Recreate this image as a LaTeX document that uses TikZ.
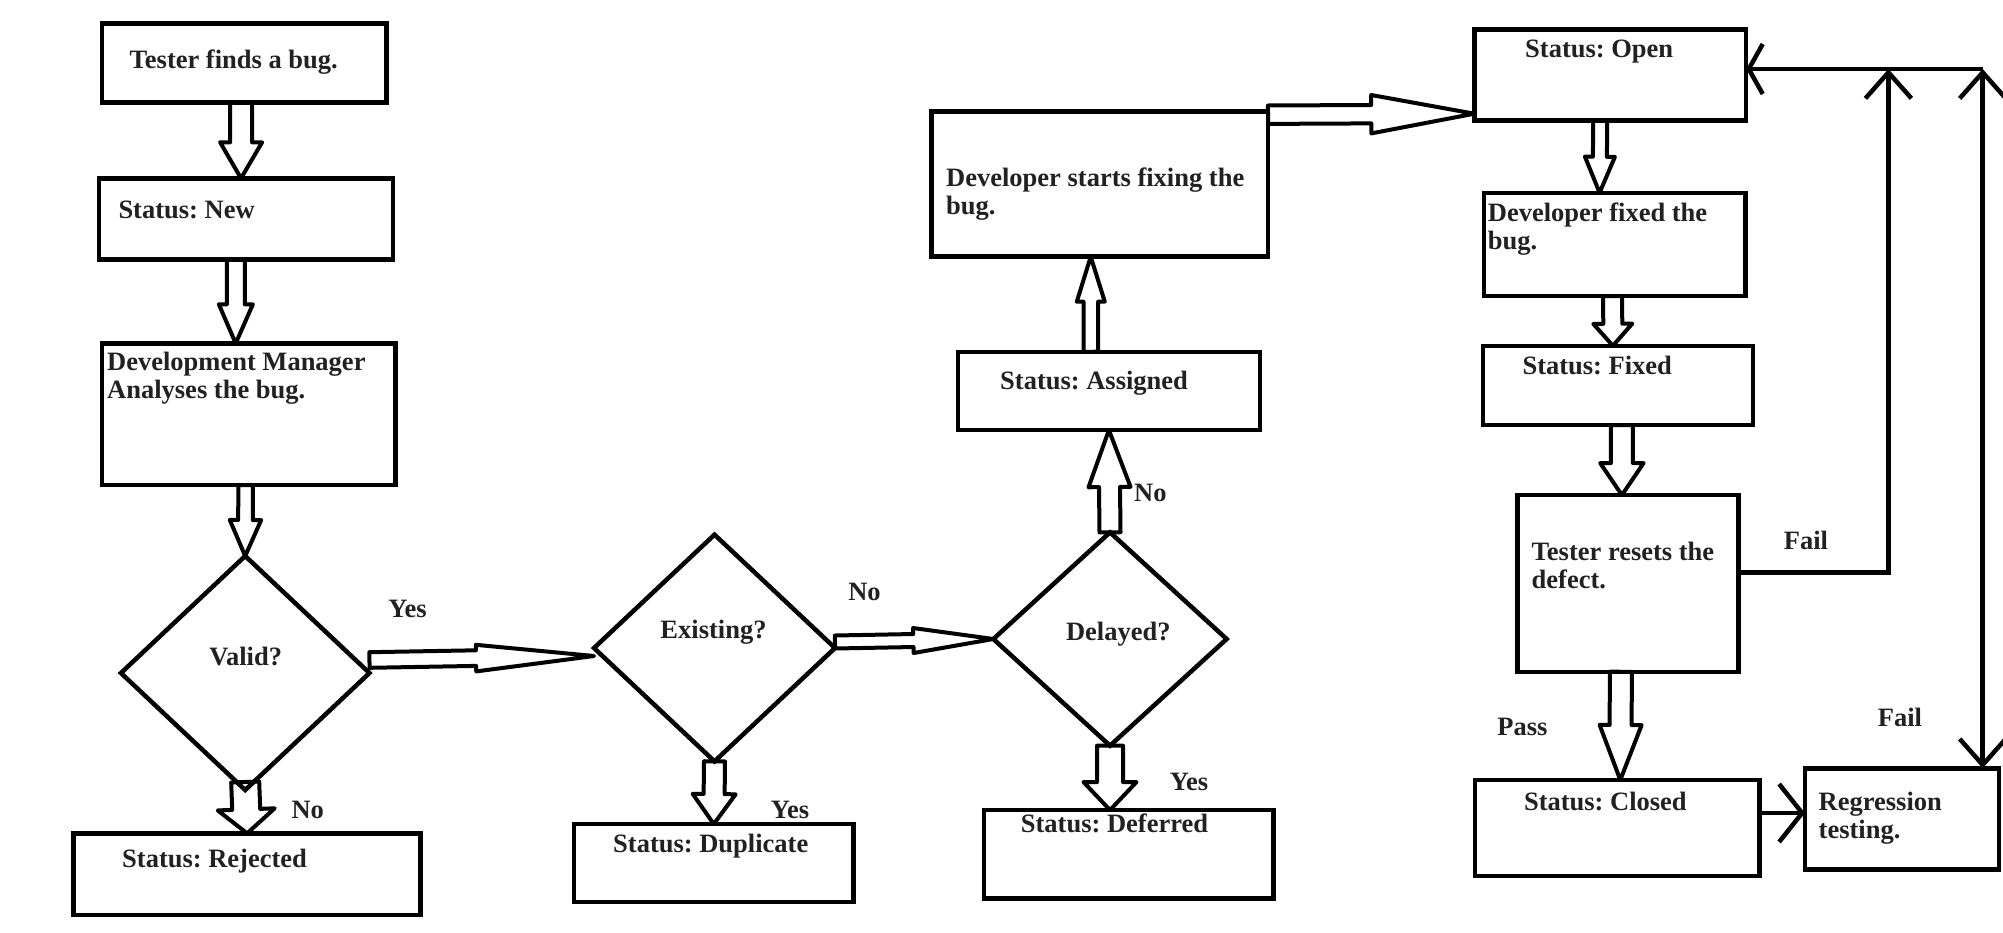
\documentclass[tikz,border=0pt]{standalone}
\usepackage{fontspec}
\setmainfont{Liberation Serif}
\usetikzlibrary{shapes.geometric,arrows.meta,calc}
\frenchspacing

\def\flowfont{\fontsize{26.5}{28}\selectfont\bfseries}
\colorlet{ink}{black}
\colorlet{textgray}{black!87}
\tikzset{
  box/.style={rectangle, draw=ink, line width=4.5pt, inner sep=0pt, outer sep=0pt},
  decision/.style={diamond, draw=ink, line width=4.5pt, inner sep=0pt, outer sep=0pt},
  txt/.style={font=\flowfont, text=textgray, inner sep=0pt, align=left},
  wire/.style={draw=ink, line width=4.5pt},
  hollow/.style={draw=ink, line width=4pt, line join=round}
  }

% hollow block arrow: {from} {to} {shaft half width} {head half width} {head length}
\newcommand{\blockarrow}[5]{
  \coordinate (ba-s) at (#1);
  \coordinate (ba-e) at (#2);
  \coordinate (ba-h) at ($(ba-e)!#5!(ba-s)$);
  \path[hollow] ($(ba-s)!#3!90:(ba-e)$) -- ($(ba-h)!#3!90:(ba-e)$)
     -- ($(ba-h)!#4!90:(ba-e)$) -- (ba-e) -- ($(ba-h)!#4!-90:(ba-e)$)
     -- ($(ba-h)!#3!-90:(ba-e)$) -- ($(ba-s)!#3!-90:(ba-e)$) -- cycle;
}

\begin{document}
\begin{tikzpicture}[x=1pt, y=-1pt, >={Straight Barb[length=26pt, width=46pt]}]
   \useasboundingbox (0,0) rectangle (2003,932);

   % first column
   \node[box, minimum width=284.8pt, minimum height=79.4pt] (tester) at (244.2,63) {};
   \node[box, minimum width=293.7pt, minimum height=81pt] (new) at (246,218.8) {};
   \node[box, minimum width=293.7pt, minimum height=141.7pt] (devmgr) at (248.7,414.2) {};
   \node[decision, minimum width=248.5pt, minimum height=234pt] (valid) at (245.2,673) {};
   \node[box, minimum width=347.2pt, minimum height=81.7pt] (rejected) at (247.1,874.2) {};

   \node[txt, anchor=north west] (tester-t) at (129.5,49.5) {Tester finds a bug.};
   \node[txt, anchor=north west] (new-t) at (118.3,200.6) {Status: New};
   \node[txt, anchor=north west] (devmgr-t) at (107,352.3) {Development Manager\\Analyses the bug.};
   \node[txt, anchor=base] (valid-t) at (245.7,665) {Valid?};
   \node[txt, anchor=north west] (rejected-t) at (122,849) {Status: Rejected};

   % middle decisions
   \node[decision, minimum width=241pt, minimum height=226.7pt] (existing) at (714.5,648) {};
   \node[box, minimum width=279.6pt, minimum height=77.7pt] (duplicate) at (713.8,862.9) {};
   \node[decision, minimum width=233.3pt, minimum height=213.3pt] (delayed) at (1110,639) {};
   \node[box, minimum width=289.3pt, minimum height=88.3pt] (deferred) at (1128.7,854.2) {};
   \node[box, minimum width=301.7pt, minimum height=78.3pt] (assigned) at (1108.9,390.9) {};
   \node[box, minimum width=336.6pt, minimum height=145pt] (devstart) at (1099.7,184.2) {};

   \node[txt, anchor=base] (existing-t) at (713.5,638.3) {Existing?};
   \node[txt, anchor=north west] (duplicate-t) at (613,834) {Status: Duplicate};
   \node[txt, anchor=base] (delayed-t) at (1118.3,640) {Delayed?};
   \node[txt, anchor=north west] (deferred-t) at (1020.7,813.3) {Status: Deferred};
   \node[txt, anchor=north west] (assigned-t) at (1000,370.6) {Status: Assigned};
   \node[txt, anchor=north west] (devstart-t) at (946,167.3) {Developer starts fixing the\\bug.};

   % right column
   \node[box, minimum width=271.9pt, minimum height=91.4pt] (open) at (1610.2,75) {};
   \node[box, minimum width=261.6pt, minimum height=103.3pt] (devfixed) at (1614.6,244.4) {};
   \node[box, minimum width=270.3pt, minimum height=79.3pt] (fixed) at (1617.9,385.4) {};
   \node[box, minimum width=221.1pt, minimum height=176.7pt] (resets) at (1627.9,583.4) {};
   \node[box, minimum width=284.6pt, minimum height=96pt] (closed) at (1617.3,828) {};
   \node[box, minimum width=193.8pt, minimum height=101pt] (regression) at (1901.9,818.8) {};

   \node[txt, anchor=north west] (open-t) at (1525,39.6) {Status: Open};
   \node[txt, anchor=north west] (devfixed-t) at (1487.7,202.3) {Developer fixed the\\bug.};
   \node[txt, anchor=north west] (fixed-t) at (1522.3,356.3) {Status: Fixed};
   \node[txt, anchor=north west] (resets-t) at (1531.5,542.3) {Tester resets the\\defect.};
   \node[txt, anchor=north west] (closed-t) at (1523.8,792.3) {Status: Closed};
   \node[txt, anchor=north west] (regression-t) at (1818.5,792.3) {Regression\\testing.};

   % branch labels
   \node[txt, anchor=base] (yes-valid) at (407.6,617.7) {Yes};
   \node[txt, anchor=base] (no-valid) at (307.7,818.3) {No};
   \node[txt, anchor=base] (no-existing) at (864.5,600) {No};
   \node[txt, anchor=base] (yes-existing) at (790,818.3) {Yes};
   \node[txt, anchor=base] (no-delayed) at (1150.3,501.7) {No};
   \node[txt, anchor=base] (yes-delayed) at (1189,790.7) {Yes};
   \node[txt, anchor=base] (fail-resets) at (1806,549.3) {Fail};
   \node[txt, anchor=base] (pass-resets) at (1522.5,735) {Pass};
   \node[txt, anchor=base] (fail-regression) at (1900,726.7) {Fail};

   % block arrows
   \blockarrow{[xshift=-3pt]tester.south}{[xshift=-5pt]new.north}{11pt}{21pt}{36pt}
   \blockarrow{[xshift=-10pt]new.south}{[xshift=-13pt]devmgr.north}{9pt}{17pt}{39pt}
   \blockarrow{[xshift=-3pt]devmgr.south}{valid.north}{7.3pt}{15.7pt}{36pt}
   \blockarrow{[yshift=8pt]valid.south}{rejected.north}{14pt}{28.5pt}{24pt}
   \blockarrow{[yshift=13pt]valid.east}{[yshift=-8pt]existing.west}{7.8pt}{13.3pt}{118pt}
   \blockarrow{[yshift=6pt]existing.east}{delayed.west}{6.5pt}{12.5pt}{80pt}
   \blockarrow{existing.south}{duplicate.north}{10.5pt}{21.5pt}{30pt}
   \blockarrow{delayed.north}{assigned.south}{10.5pt}{21pt}{57pt}
   \blockarrow{delayed.south}{delayed.south |- deferred.north}{13pt}{26.5pt}{28pt}
   \blockarrow{[xshift=-18pt]assigned.north}{[xshift=-9pt]devstart.south}{7.3pt}{14pt}{45pt}
   \blockarrow{[yshift=-3pt]devstart.north east}{[yshift=7pt]open.south west}{9.2pt}{19.2pt}{103pt}
   \blockarrow{[xshift=-10pt]open.south}{[xshift=-15pt]devfixed.north}{7pt}{15pt}{36pt}
   \blockarrow{[xshift=-2pt]devfixed.south}{[xshift=-5pt]fixed.north}{9.5pt}{19.5pt}{22pt}
   \blockarrow{[xshift=4pt]fixed.south}{[xshift=-6pt]resets.north}{11pt}{21.7pt}{32pt}
   \blockarrow{[xshift=-7pt]resets.south}{[xshift=3pt]closed.north}{11pt}{21pt}{55pt}

   % fail loops
   \coordinate (loop1) at (1888.4,69);
   \coordinate (loop2) at (1982.7,69);
   \coordinate (fail-out) at ([yshift=11pt]resets.east);
   \coordinate (pass-out) at ([yshift=15pt]closed.east);
   \draw[wire, ->] (fail-out) -| (loop1);
   \draw[wire, -{Straight Barb[length=14pt, width=50pt]}] (loop2) -- (loop2 -| open.east);
   \draw[wire, <->] (loop2) -- (loop2 |- regression.north);
   \draw[wire, -{Straight Barb[length=23pt, width=58pt]}] (pass-out) -- (pass-out -| regression.west);
\end{tikzpicture}
\end{document}
